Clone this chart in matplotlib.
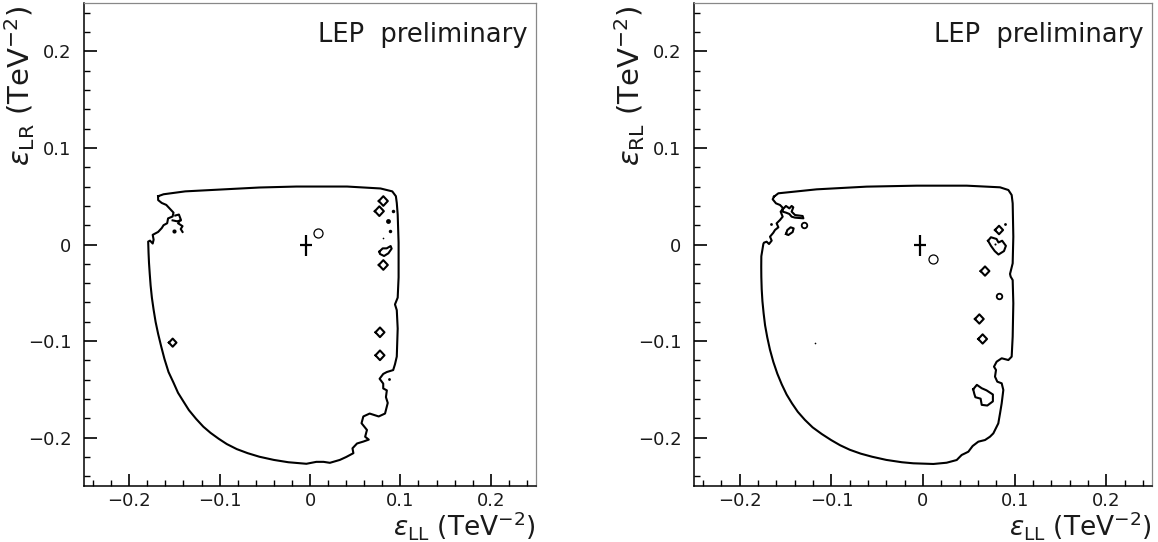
import numpy as np
import matplotlib
matplotlib.use("Agg")
import matplotlib.pyplot as plt
from matplotlib.ticker import MultipleLocator, FuncFormatter

# ---------------- data (TeV^-2) ----------------
# Left panel: eps_LL vs eps_LR, main contour
lr_main_x = [-0.168, -0.162, -0.138, -0.097, -0.056, -0.015, 0.000, 0.041, 0.078, 0.091,
             0.095, 0.096, 0.097, 0.098, 0.098, 0.097, 0.094, 0.096, 0.097, 0.096,
             0.094, 0.092, 0.085, 0.081, 0.077, 0.081, 0.081, 0.085, 0.084, 0.086,
             0.083, 0.076, 0.066, 0.059, 0.057, 0.063, 0.061, 0.065, 0.059, 0.052,
             0.047, 0.048, 0.040, 0.033, 0.022, 0.015, 0.007, -0.004, -0.024, -0.040,
             -0.056, -0.069, -0.081, -0.092, -0.101, -0.110, -0.118, -0.126, -0.134, -0.140,
             -0.146, -0.151, -0.1565, -0.161, -0.1647, -0.168, -0.1708, -0.173, -0.1749, -0.1763,
             -0.1773, -0.1781, -0.1786, -0.179, -0.177, -0.174, -0.173, -0.174, -0.168, -0.164,
             -0.162, -0.158, -0.157, -0.152, -0.151, -0.155, -0.159, -0.164, -0.168]
lr_main_y = [0.050, 0.052, 0.055, 0.057, 0.059, 0.060, 0.060, 0.060, 0.058, 0.055,
             0.050, 0.043, 0.031, 0.002, -0.034, -0.055, -0.062, -0.068, -0.087, -0.116,
             -0.124, -0.130, -0.132, -0.134, -0.139, -0.144, -0.149, -0.151, -0.158, -0.164,
             -0.175, -0.178, -0.175, -0.178, -0.185, -0.192, -0.199, -0.202, -0.204, -0.206,
             -0.211, -0.216, -0.220, -0.223, -0.226, -0.225, -0.225, -0.227, -0.2254, -0.2230,
             -0.2197, -0.2160, -0.2118, -0.2066, -0.2011, -0.1950, -0.1886, -0.1805, -0.1714, -0.1625,
             -0.1535, -0.1430, -0.1320, -0.1185, -0.1052, -0.0925, -0.0801, -0.0675, -0.0551, -0.0425,
             -0.0301, -0.0190, -0.0086, 0.003, 0.004, 0.001, 0.005, 0.010, 0.013, 0.017,
             0.020, 0.022, 0.027, 0.029, 0.033, 0.037, 0.041, 0.043, 0.046]
# small squiggle near the upper-left edge
lr_sq_x = [-0.149, -0.145, -0.143, -0.146, -0.141, -0.143, -0.141]
lr_sq_y = [0.030, 0.031, 0.026, 0.022, 0.019, 0.016, 0.013]
lr_sq2_x = [-0.152, -0.147, -0.143]
lr_sq2_y = [0.025, 0.024, 0.025]
# teardrop island
lr_tear_x = [0.0767, 0.0804, 0.0848, 0.0892, 0.0903, 0.0867, 0.0819, 0.0774]
lr_tear_y = [-0.0074, -0.0040, -0.0040, -0.0016, -0.0043, -0.0091, -0.0119, -0.0098]
# diamond-shaped islands (centres, half sizes)
lr_diam_x = [0.0811, 0.0767, 0.0811, 0.0774, 0.0774, -0.1519]
lr_diam_y = [0.0450, 0.0345, -0.0212, -0.0909, -0.1147, -0.1016]
lr_diam_r = [0.0050, 0.0050, 0.0050, 0.0050, 0.0050, 0.0042]
# tiny islands / dots
lr_dot_x = [0.0922, 0.0867, 0.0885, 0.0811, 0.0878, -0.150]
lr_dot_y = [0.0350, 0.0247, 0.0143, 0.0071, -0.1396, 0.0136]
lr_dot_s = [2.5, 3.5, 2.5, 1.2, 2.0, 3.0]

# Right panel: eps_LL vs eps_RL
rl_main_x = [-0.1627, -0.1579, -0.1161, -0.0615, -0.0069, 0.0477, 0.0841, 0.0932, 0.0968, 0.0979,
             0.0986, 0.0979, 0.0950, 0.0957, 0.0979, 0.0986, 0.0979, 0.0968, 0.0932, 0.0859,
             0.0804, 0.0775, 0.0797, 0.0786, 0.0811, 0.0859, 0.0877, 0.0859, 0.0841, 0.0822,
             0.0768, 0.0731, 0.0677, 0.0604, 0.0542, 0.0495, 0.0459, 0.0422, 0.0397, 0.0368,
             0.0258, 0.0113, -0.0106, -0.0231, -0.0400, -0.0556, -0.0680, -0.0799, -0.0905, -0.1002,
             -0.1105, -0.1205, -0.1290, -0.1367, -0.1430, -0.1489, -0.1542, -0.1590, -0.1634, -0.1671,
             -0.1700, -0.1724, -0.1740, -0.1753, -0.1761, -0.1765, -0.1766, -0.1765, -0.1743, -0.1736,
             -0.1707, -0.1681, -0.1652, -0.1670, -0.1634, -0.1616, -0.1579, -0.1598, -0.1561, -0.1532,
             -0.1554, -0.1525, -0.1561, -0.1605, -0.1641]
rl_main_y = [0.0495, 0.0530, 0.0571, 0.0599, 0.0609, 0.0609, 0.0592, 0.0564, 0.0512, 0.0426,
             0.0081, -0.0195, -0.0305, -0.0333, -0.0368, -0.0609, -0.0954, -0.1161, -0.1196, -0.1178,
             -0.1213, -0.1265, -0.1299, -0.1368, -0.1420, -0.1437, -0.1506, -0.1644, -0.1748, -0.1852,
             -0.1955, -0.1990, -0.2024, -0.2041, -0.2086, -0.2145, -0.2162, -0.2179, -0.2203, -0.2231,
             -0.2259, -0.2272, -0.2265, -0.2254, -0.2230, -0.2197, -0.2165, -0.2125, -0.2078, -0.2025,
             -0.1962, -0.1893, -0.1815, -0.1732, -0.1645, -0.1553, -0.1448, -0.1338, -0.1215, -0.1088,
             -0.0962, -0.0837, -0.0712, -0.0587, -0.0462, -0.0336, -0.0230, -0.0122, 0.0005, 0.0019,
             0.0029, 0.0005, 0.0040, 0.0081, 0.0122, 0.0150, 0.0178, 0.0219, 0.0254, 0.0288,
             0.0340, 0.0374, 0.0409, 0.0426, 0.0468]
rl_x_shape_x = [-0.1532, -0.1496, -0.1459, -0.1434, -0.1416, -0.1434, -0.1397, -0.1314, -0.1306, -0.1397,
                -0.1434, -0.1459, -0.1496, -0.1532]
rl_x_shape_y = [0.0364, 0.0399, 0.0374, 0.0399, 0.0385, 0.0340, 0.0305, 0.0295, 0.0271, 0.0278,
                0.0288, 0.0316, 0.0330, 0.0340]
rl_ell_x = [-0.1496, -0.1481, -0.1445, -0.1412, -0.1423, -0.1470]
rl_ell_y = [0.0109, 0.0150, 0.0178, 0.0167, 0.0129, 0.0098]
rl_irr_x = [0.0710, 0.0742, 0.0803, 0.0824, 0.0864, 0.0905, 0.0884, 0.0824, 0.0783, 0.0742]
rl_irr_y = [0.0039, 0.0075, 0.0057, 0.0021, 0.0039, -0.0014, -0.0068, -0.0104, -0.0068, -0.0014]
rl_blob_x = [0.0548, 0.0588, 0.0641, 0.0694, 0.0763, 0.0763, 0.0702, 0.0641, 0.0629, 0.0572, 0.0560]
rl_blob_y = [-0.1499, -0.1453, -0.1488, -0.1510, -0.1553, -0.1624, -0.1667, -0.1660, -0.1596, -0.1581, -0.1546]
rl_diam_x = [0.0830, 0.0677, 0.0615, 0.0651]
rl_diam_y = [0.0150, -0.0275, -0.0771, -0.0978]
rl_diam_r = [0.0044, 0.0048, 0.0048, 0.0048]
rl_dot_x = [-0.1295, -0.1659, 0.0895, 0.0786, 0.0830, -0.1179]
rl_dot_y = [0.0202, 0.0212, 0.0212, 0.0005, -0.0530, -0.1016]
rl_dot_s = [4.0, 2.0, 2.0, 1.5, 4.0, 1.2]

# best fit (cross with errors) and open circle
fit_x = [-0.004, -0.003]
fit_y = [-0.001, -0.001]
fit_xerr = [0.0066, 0.0066]
fit_yerr = [0.011, 0.011]
circ_x = [0.009, 0.011]
circ_y = [0.012, -0.015]

y_labels = [r'$\varepsilon_{\rm LR}$ (TeV$^{-2}$)', r'$\varepsilon_{\rm RL}$ (TeV$^{-2}$)']
x_label = r'$\varepsilon_{\rm LL}$ (TeV$^{-2}$)'
corner_text = 'LEP  preliminary'

# ---------------- figure ----------------
W, H = 1158, 542
fig = plt.figure(figsize=(W / 100, H / 100), dpi=100)
plt.rcParams['font.family'] = ['DejaVu Sans']
plt.rcParams['mathtext.fontset'] = 'dejavusans'

panels = [
    dict(left=84, width=452),
    dict(left=694, width=458),
]
ax_top, ax_bot = 3, 486
TXT = '#1a1a1a'


def closed(x, y):
    return list(x) + [x[0]], list(y) + [y[0]]


def diamond(cx, cy, r):
    return [cx - r, cx, cx + r, cx, cx - r], [cy, cy + r, cy, cy - r, cy]


def fmt(v, p):
    if abs(v) < 1e-9:
        return '0'
    return ('%.1f' % v).replace('-', '\u2212')


axes = []
for i, p in enumerate(panels):
    ax = fig.add_axes([p['left'] / W, (H - ax_bot) / H, p['width'] / W, (ax_bot - ax_top) / H])
    axes.append(ax)
    ax.set_xlim(-0.25, 0.25)
    ax.set_ylim(-0.25, 0.25)
    for s in ['top', 'right']:
        ax.spines[s].set_color('#888888')
        ax.spines[s].set_linewidth(0.9)
    for s in ['left', 'bottom']:
        ax.spines[s].set_color('black')
        ax.spines[s].set_linewidth(1.1)
    ax.xaxis.set_major_locator(MultipleLocator(0.1))
    ax.xaxis.set_minor_locator(MultipleLocator(0.02))
    ax.yaxis.set_major_locator(MultipleLocator(0.1))
    ax.yaxis.set_minor_locator(MultipleLocator(0.02))
    ax.xaxis.set_major_formatter(FuncFormatter(fmt))
    ax.yaxis.set_major_formatter(FuncFormatter(fmt))
    ax.tick_params(which='both', direction='in', top=False, right=False, colors='black')
    ax.tick_params(which='major', length=9, width=1.2, labelsize=13, labelcolor=TXT)
    ax.tick_params(which='minor', length=4.5, width=1.0)
    ax.tick_params(axis='x', which='major', pad=4)
    ax.tick_params(axis='y', which='major', pad=9)

    fig.text((p['left'] - 64) / W, 1 - 6 / H, y_labels[i], rotation=90, ha='center', va='top',
             fontsize=21, color=TXT)
    fig.text((p['left'] + p['width']) / W, 0.0, x_label, ha='right', va='bottom',
             fontsize=19, color=TXT)
    ax.text(0.982, 0.919, corner_text, transform=ax.transAxes, ha='right',
            va='baseline', fontsize=18.5, color=TXT)

    ax.errorbar(fit_x[i], fit_y[i], xerr=fit_xerr[i], yerr=fit_yerr[i], color='black',
                lw=1.6, capsize=0, fmt='none')
    ax.plot(circ_x[i], circ_y[i], 'o', mfc='white', mec='black', ms=6.5, mew=0.9)

lw = 1.5
ax = axes[0]
ax.plot(*closed(lr_main_x, lr_main_y), color='black', lw=lw)
ax.plot(lr_sq_x, lr_sq_y, color='black', lw=lw)
ax.plot(lr_sq2_x, lr_sq2_y, color='black', lw=lw)
ax.plot(*closed(lr_tear_x, lr_tear_y), color='black', lw=lw)
for cx, cy, r in zip(lr_diam_x, lr_diam_y, lr_diam_r):
    ax.plot(*diamond(cx, cy, r), color='black', lw=lw)
for cx, cy, s in zip(lr_dot_x, lr_dot_y, lr_dot_s):
    ax.plot(cx, cy, 'o', color='black', ms=s, mew=0)

ax = axes[1]
ax.plot(*closed(rl_main_x, rl_main_y), color='black', lw=lw)
ax.plot(*closed(rl_x_shape_x, rl_x_shape_y), color='black', lw=lw)
ax.plot(*closed(rl_ell_x, rl_ell_y), color='black', lw=lw)
ax.plot(*closed(rl_irr_x, rl_irr_y), color='black', lw=lw)
ax.plot(*closed(rl_blob_x, rl_blob_y), color='black', lw=lw)
for cx, cy, r in zip(rl_diam_x, rl_diam_y, rl_diam_r):
    ax.plot(*diamond(cx, cy, r), color='black', lw=lw)
for cx, cy, s in zip(rl_dot_x, rl_dot_y, rl_dot_s):
    if s >= 4:
        ax.plot(cx, cy, 'o', mfc='white', mec='black', ms=s, mew=1.3)
    else:
        ax.plot(cx, cy, 'o', color='black', ms=s, mew=0)

fig.savefig('out.png', dpi=100)
